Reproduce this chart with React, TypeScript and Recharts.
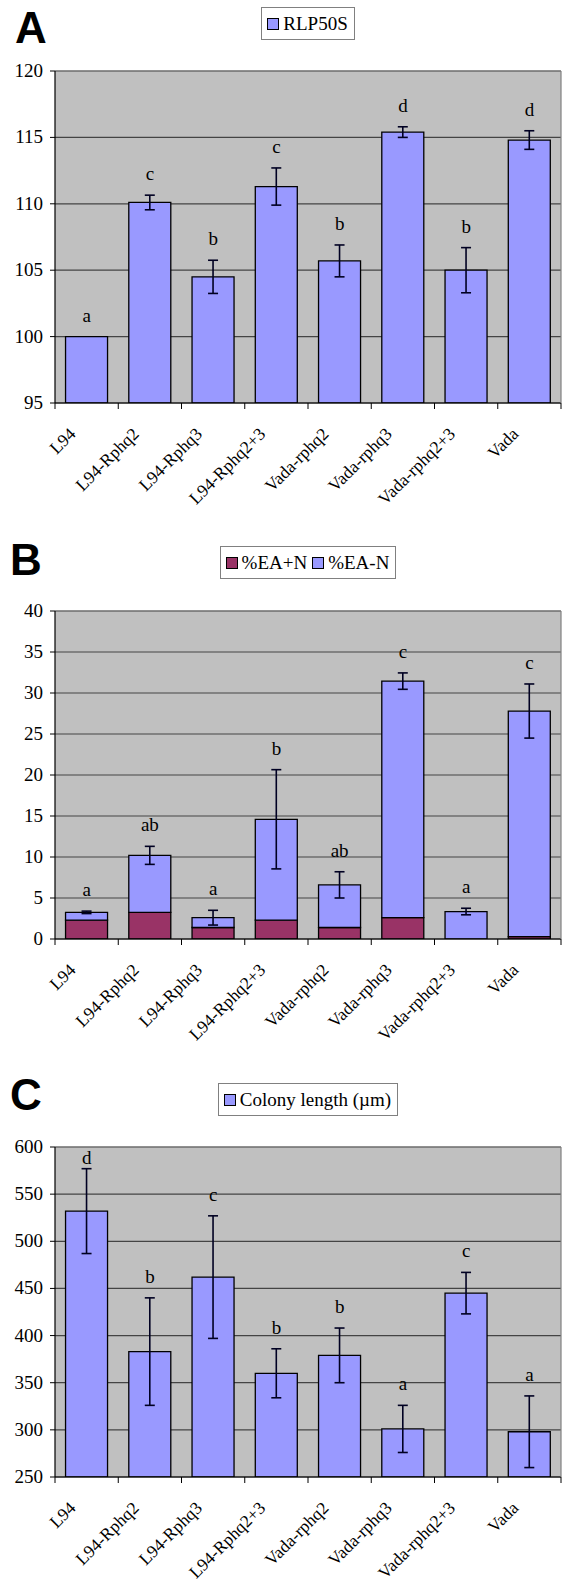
import React from 'react';
import {
  ComposedChart,
  Bar,
  Line,
  XAxis,
  YAxis,
  CartesianGrid,
  ErrorBar,
  LabelList,
  Legend,
  ReferenceLine,
} from 'recharts';

// ---------- data ----------
const categories = [
  'L94',
  'L94-Rphq2',
  'L94-Rphq3',
  'L94-Rphq2+3',
  'Vada-rphq2',
  'Vada-rphq3',
  'Vada-rphq2+3',
  'Vada',
];

// Panel A: RLP50S
const rlp50s = [100, 110.1, 104.5, 111.3, 105.7, 115.4, 105.0, 114.8];
const rlp50sErr = [0, 0.55, 1.25, 1.4, 1.2, 0.4, 1.7, 0.7];
const rlp50sLetters = ['a', 'c', 'b', 'c', 'b', 'd', 'b', 'd'];
const rlpTicks = [95, 100, 105, 110, 115, 120];

// Panel B: %EA+N (bottom) and %EA-N (stacked on top)
const eaPlusN = [2.3, 3.25, 1.4, 2.3, 1.4, 2.6, 0, 0.3];
const eaMinusN = [0.95, 6.95, 1.2, 12.3, 5.2, 28.85, 3.35, 27.5];
const eaErr = [0.15, 1.1, 0.9, 6.05, 1.6, 1.0, 0.4, 3.3];
const eaLetters = ['a', 'ab', 'a', 'b', 'ab', 'c', 'a', 'c'];
const eaTicks = [0, 5, 10, 15, 20, 25, 30, 35, 40];

// Panel C: colony length (µm)
const colonyLength = [532, 383, 462, 360, 379, 301, 445, 298];
const colonyErr = [45, 57, 65, 26, 29, 25, 22, 38];
const colonyLetters = ['d', 'b', 'c', 'b', 'b', 'a', 'c', 'a'];
const colonyTicks = [250, 300, 350, 400, 450, 500, 550, 600];

// ---------- styles ----------
const W = 563;
const PLOT_LEFT = 55;
const RIGHT_MARGIN = 1;
const RIGHT_AXIS_W = 1;
const HALF_BAND = (W - PLOT_LEFT - RIGHT_MARGIN - RIGHT_AXIS_W) / categories.length / 2;
const SERIF = "'Liberation Serif', 'Times New Roman', Times, serif";
const SANS = "'Liberation Sans', Arial, sans-serif";
const BLUE = '#9999ff';
const PLUM = '#993366';
const PLOT_BG = '#c0c0c0';

const rlpData = categories.map((name, i) => ({
  name,
  value: rlp50s[i],
  err: rlp50sErr[i],
  top: rlp50s[i] + rlp50sErr[i],
  letter: rlp50sLetters[i],
}));

const eaData = categories.map((name, i) => ({
  name,
  plus: eaPlusN[i],
  minus: eaMinusN[i],
  err: eaErr[i],
  top: eaPlusN[i] + eaMinusN[i] + eaErr[i],
  letter: eaLetters[i],
}));

const colonyData = categories.map((name, i) => ({
  name,
  value: colonyLength[i],
  err: colonyErr[i],
  top: colonyLength[i] + colonyErr[i],
  letter: colonyLetters[i],
}));

const textStyle = { fontFamily: SERIF, fontSize: 19, fill: '#000' };
const xLabelStyle = { fontFamily: SERIF, fontSize: 17.5, fill: '#000' };

const XTick = (props: any) => {
  const { x, y, payload, index } = props;
  const ax = x - 10;
  const ay = y + 32;
  return (
    <g>
      {index === 0 && (
        <line x1={x - HALF_BAND} y1={y} x2={x - HALF_BAND} y2={y + 6} stroke="#000" strokeWidth={1} />
      )}
      <line x1={x + HALF_BAND} y1={y} x2={x + HALF_BAND} y2={y + 6} stroke="#000" strokeWidth={1} />
      <text
        x={ax}
        y={ay}
        transform={`rotate(-45 ${ax} ${ay})`}
        textAnchor="end"
        style={xLabelStyle}
      >
        {payload.value}
      </text>
    </g>
  );
};

const YTick = (props: any) => {
  const { x, y, payload } = props;
  return (
    <text x={x} y={y} dy={6} textAnchor="end" style={textStyle}>
      {payload.value}
    </text>
  );
};

const makeLetter = (plotTop: number) => (props: any) => {
  const { x, y, value } = props;
  const by = Math.max(y - 15, plotTop + 17);
  return (
    <text x={x} y={by} textAnchor="middle" style={textStyle}>
      {value}
    </text>
  );
};

type LegendItem = { label: string; color: string };

const LegendBox = ({ items }: { items: LegendItem[] }) => (
  <div style={{ display: 'flex', justifyContent: 'center' }}>
    <div
      style={{
        display: 'inline-flex',
        alignItems: 'center',
        height: 31,
        border: '1px solid #808080',
        background: '#fff',
        padding: '0 6px 0 5px',
        fontFamily: SERIF,
        fontSize: 19,
        color: '#000',
        lineHeight: 1,
      }}
    >
      {items.map((it, i) => (
        <span key={i} style={{ display: 'inline-flex', alignItems: 'center', marginLeft: i ? 5 : 0 }}>
          <span
            style={{
              display: 'inline-block',
              width: 10,
              height: 10,
              border: '1.5px solid #000',
              background: it.color,
              marginRight: 4,
            }}
          />
          {it.label}
        </span>
      ))}
    </div>
  </div>
);

type PanelProps = {
  data: any[];
  top: number;
  height: number;
  marginTop: number;
  marginBottom: number;
  domain: [number, number];
  ticks: number[];
  legendTop: number;
  legendItems: LegendItem[];
  stacked?: boolean;
};

const Panel = ({
  data,
  top,
  height,
  marginTop,
  marginBottom,
  domain,
  ticks,
  legendTop,
  legendItems,
  stacked,
}: PanelProps) => (
  <div style={{ position: 'absolute', left: 0, top, width: W, height }}>
    <ComposedChart
      width={W}
      height={height}
      data={data}
      margin={{ top: marginTop, right: RIGHT_MARGIN, bottom: marginBottom, left: 0 }}
      barCategoryGap="16.67%"
    >
      <CartesianGrid vertical={false} fill={PLOT_BG} fillOpacity={1} stroke="#444" strokeWidth={1.2} />
      <XAxis
        dataKey="name"
        interval={0}
        height={100}
        tickLine={false}
        tickSize={0}
        tickMargin={0}
        axisLine={{ stroke: '#000', strokeWidth: 1.2 }}
        tick={<XTick />}
      />
      <YAxis
        domain={domain}
        ticks={ticks}
        interval={0}
        allowDataOverflow
        width={PLOT_LEFT}
        tickSize={5}
        tickMargin={7}
        tickLine={{ stroke: '#000' }}
        axisLine={{ stroke: '#000', strokeWidth: 1.2 }}
        tick={<YTick />}
      />
      <YAxis
        yAxisId="r"
        orientation="right"
        width={RIGHT_AXIS_W}
        domain={domain}
        tick={false}
        tickLine={false}
        axisLine={{ stroke: '#808080', strokeWidth: 1.2 }}
      />
      <ReferenceLine y={domain[1]} stroke="#808080" strokeWidth={1.2} />
      <Legend
        layout="horizontal"
        verticalAlign="middle"
        align="center"
        wrapperStyle={{ top: legendTop, left: PLOT_LEFT, width: W - PLOT_LEFT - RIGHT_MARGIN - RIGHT_AXIS_W }}
        content={() => <LegendBox items={legendItems} />}
      />
      {stacked ? (
        <Bar dataKey="plus" stackId="s" fill={PLUM} stroke="#000" strokeWidth={1.3} isAnimationActive={false} />
      ) : null}
      <Bar
        dataKey={stacked ? 'minus' : 'value'}
        stackId={stacked ? 's' : undefined}
        fill={BLUE}
        stroke="#000"
        strokeWidth={1.3}
        isAnimationActive={false}
      >
        <ErrorBar dataKey="err" width={5} stroke="#000022" strokeWidth={1.6} direction="y" />
      </Bar>
      <Line
        dataKey="top"
        stroke="none"
        dot={false}
        activeDot={false}
        legendType="none"
        isAnimationActive={false}
      >
        <LabelList dataKey="letter" content={makeLetter(marginTop)} />
      </Line>
    </ComposedChart>
  </div>
);

const PanelLetter = ({ text, left, top }: { text: string; left: number; top: number }) => (
  <div
    style={{
      position: 'absolute',
      left,
      top,
      fontFamily: SANS,
      fontWeight: 'bold',
      fontSize: 44,
      lineHeight: 1,
      color: '#000',
    }}
  >
    {text}
  </div>
);

export default function App() {
  return (
    <div style={{ position: 'absolute', left: 0, top: 0, width: W, height: 1585, background: '#fff', overflow: 'hidden' }}>
      <Panel
        data={rlpData}
        top={0}
        height={540}
        marginTop={71}
        marginBottom={37}
        domain={[95, 120]}
        ticks={rlpTicks}
        legendTop={7}
        legendItems={[{ label: 'RLP50S', color: BLUE }]}
      />
      <Panel
        data={eaData}
        top={540}
        height={540}
        marginTop={71}
        marginBottom={41}
        domain={[0, 40]}
        ticks={eaTicks}
        legendTop={6}
        legendItems={[
          { label: '%EA+N', color: PLUM },
          { label: '%EA-N', color: BLUE },
        ]}
        stacked
      />
      <Panel
        data={colonyData}
        top={1080}
        height={505}
        marginTop={67}
        marginBottom={8}
        domain={[250, 600]}
        ticks={colonyTicks}
        legendTop={3}
        legendItems={[{ label: 'Colony length (µm)', color: BLUE }]}
      />
      <PanelLetter text="A" left={15} top={6} />
      <PanelLetter text="B" left={10} top={538} />
      <PanelLetter text="C" left={10} top={1073} />
    </div>
  );
}
